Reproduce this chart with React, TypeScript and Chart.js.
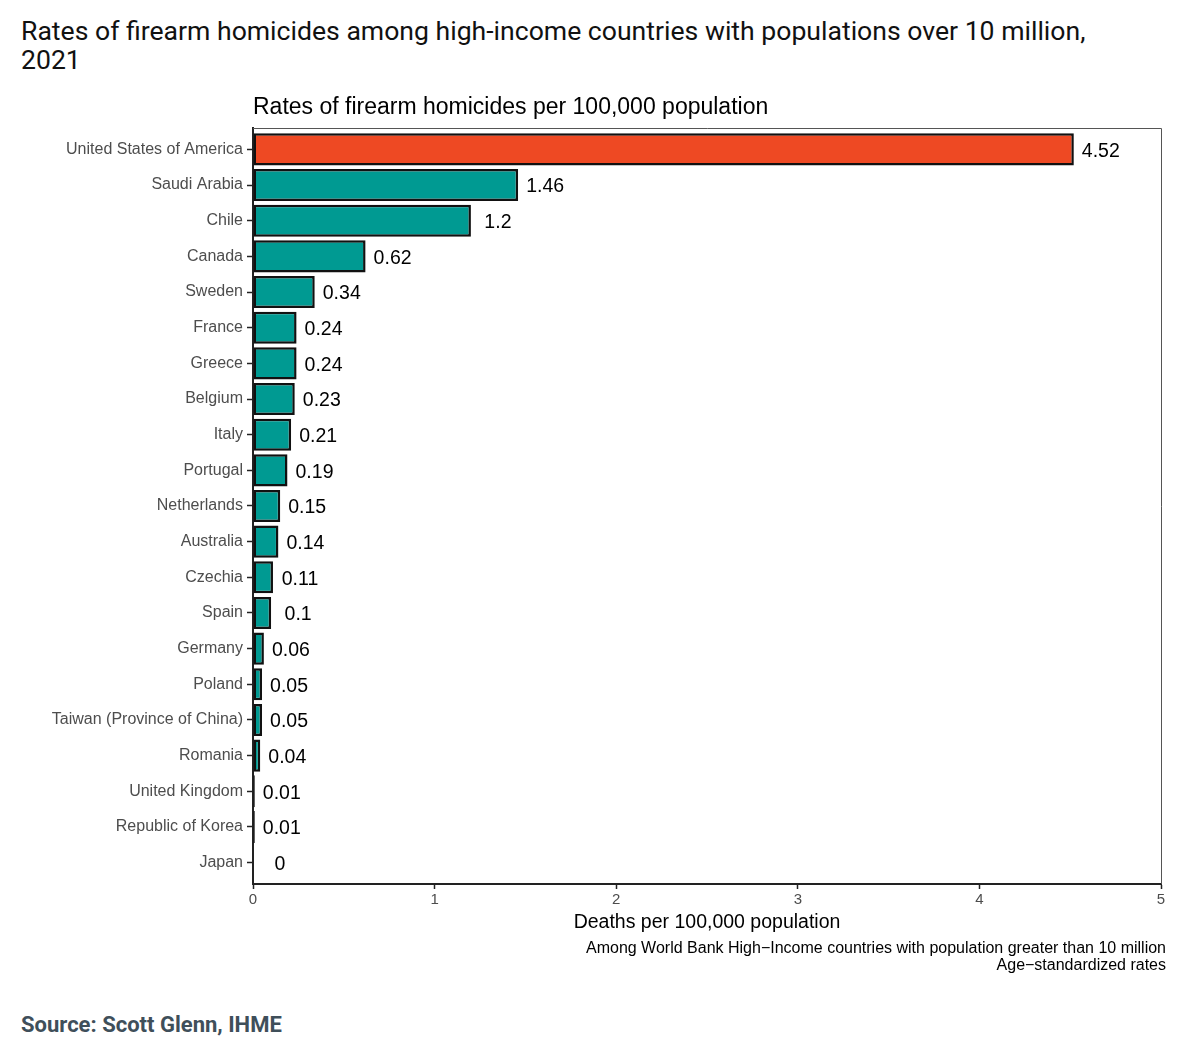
import { useEffect, useRef } from 'react';
import Chart from 'chart.js/auto';

const countries = [
  'United States of America', 'Saudi Arabia', 'Chile', 'Canada', 'Sweden', 'France', 'Greece',
  'Belgium', 'Italy', 'Portugal', 'Netherlands', 'Australia', 'Czechia', 'Spain', 'Germany',
  'Poland', 'Taiwan (Province of China)', 'Romania', 'United Kingdom', 'Republic of Korea', 'Japan',
];
const rates = [4.52, 1.46, 1.2, 0.62, 0.34, 0.24, 0.24, 0.23, 0.21, 0.19, 0.15, 0.14, 0.11, 0.1, 0.06, 0.05, 0.05, 0.04, 0.01, 0.01, 0];
const rateLabels = ['4.52', '1.46', '1.2', '0.62', '0.34', '0.24', '0.24', '0.23', '0.21', '0.19', '0.15', '0.14', '0.11', '0.1', '0.06', '0.05', '0.05', '0.04', '0.01', '0.01', '0'];
const xTicks = [0, 1, 2, 3, 4, 5];

const highlight = 'United States of America';
const captions = [
  'Among World Bank High\u2212Income countries with population greater than 10 million',
  'Age\u2212standardized rates',
];

const sans = '"Liberation Sans", Arial, sans-serif';

// надписи, рамка панели и подзаголовок в стиле ggplot
const extrasPlugin = {
  id: 'extras',
  afterDraw(chart: Chart) {
    const { ctx, chartArea, scales } = chart;
    const x = scales.x;
    const y = scales.y;
    ctx.save();
    // верхняя и правая рамка
    ctx.strokeStyle = '#555';
    ctx.lineWidth = 1;
    ctx.beginPath();
    ctx.moveTo(chartArea.left, chartArea.top + 0.5);
    ctx.lineTo(chartArea.right + 0.5, chartArea.top + 0.5);
    ctx.lineTo(chartArea.right + 0.5, chartArea.bottom);
    ctx.stroke();

    // значения справа от столбцов
    ctx.fillStyle = '#000';
    ctx.font = `19.5px ${sans}`;
    ctx.textAlign = 'center';
    ctx.textBaseline = 'middle';
    rates.forEach((v, i) => {
      ctx.fillText(rateLabels[i], x.getPixelForValue(v) + 27, y.getPixelForValue(i) + 2);
    });

    // подзаголовок над панелью
    ctx.textAlign = 'left';
    ctx.textBaseline = 'alphabetic';
    ctx.font = `23px ${sans}`;
    ctx.fillStyle = '#000';
    ctx.fillText('Rates of firearm homicides per 100,000 population', chartArea.left, chartArea.top - 14);

    // подписи внизу справа
    ctx.textAlign = 'right';
    ctx.font = `16px ${sans}`;
    ctx.fillText(captions[0], chartArea.right + 5, chartArea.bottom + 69);
    ctx.fillText(captions[1], chartArea.right + 5, chartArea.bottom + 86);
    ctx.restore();
  },
};

const BarChart: React.FC = () => {
  const canvasRef = useRef<HTMLCanvasElement>(null);
  const chartInstance = useRef<Chart | null>(null);

  useEffect(() => {
    if (!canvasRef.current) return;
    const ctx = canvasRef.current.getContext('2d');
    if (!ctx) return;

    chartInstance.current = new Chart(ctx, {
      type: 'bar',
      data: {
        datasets: [{
          data: rates.map((v, i) => ({ x: v, y: i })),
          backgroundColor: countries.map(c => (c === highlight ? '#ee4923' : '#009a92')),
          borderColor: '#111',
          borderWidth: 2.5,
          borderSkipped: false,
          categoryPercentage: 1,
          barPercentage: 0.9,
        }],
      },
      options: {
        indexAxis: 'y',
        animation: false,
        responsive: true,
        maintainAspectRatio: false,
        layout: { padding: { left: 0, right: 39, top: 38, bottom: 56 } },
        plugins: {
          legend: { display: false },
          tooltip: { enabled: false },
          title: { display: false },
        },
        scales: {
          x: {
            type: 'linear',
            min: 0,
            max: 5,
            afterBuildTicks: (scale: any) => {
              scale.ticks = xTicks.map(v => ({ value: v }));
            },
            afterFit: (scale: any) => {
              scale.height = 50;
            },
            grid: { drawOnChartArea: false, drawTicks: true, tickLength: 5, tickColor: '#222', tickWidth: 1.5 },
            border: { display: true, color: '#222', width: 2 },
            ticks: {
              color: '#4d4d4d',
              padding: 2,
              font: { family: sans, size: 15 },
            },
            title: {
              display: true,
              text: 'Deaths per 100,000 population',
              color: '#000',
              padding: { top: 0, bottom: 0 },
              font: { family: sans, size: 19.5 },
            },
          },
          y: {
            type: 'linear',
            reverse: true,
            offset: false,
            // дискретная ось с расширением 0.6 как в ggplot
            min: -0.6,
            max: countries.length - 0.4,
            afterBuildTicks: (scale: any) => {
              scale.ticks = countries.map((_, i) => ({ value: i }));
            },
            afterFit: (scale: any) => {
              scale.width = 253;
            },
            grid: { offset: false, drawOnChartArea: false, drawTicks: true, tickLength: 6, tickColor: '#222', tickWidth: 1.5 },
            border: { display: true, color: '#222', width: 2 },
            ticks: {
              color: '#4d4d4d',
              padding: 4,
              autoSkip: false,
              callback: (v: any) => countries[v as number] ?? '',
              font: { family: sans, size: 16 },
            },
          },
        },
      },
      plugins: [extrasPlugin],
    });

    return () => {
      if (chartInstance.current) {
        chartInstance.current.destroy();
        chartInstance.current = null;
      }
    };
  }, []);

  return (
    <div style={{ position: 'relative', width: 1200, height: 900 }}>
      <canvas ref={canvasRef} />
    </div>
  );
};

export default function App() {
  useEffect(() => {
    document.body.style.margin = '0';
    document.body.style.background = '#fff';
  }, []);

  return (
    <div style={{ width: 1200, height: 1053, background: '#fff', fontFamily: sans }}>
      <div style={{ padding: '16px 0 0 21px', fontSize: 26.6, lineHeight: '29px', color: '#111', height: 76, boxSizing: 'border-box', fontFamily: 'Roboto, sans-serif' }}>
        Rates of firearm homicides among high-income countries with populations over 10 million,<br />2021
      </div>
      <div style={{ marginTop: 14 }}>
        <BarChart />
      </div>
      <div style={{ paddingLeft: 21, marginTop: 22, fontSize: 22, fontWeight: 'bold', color: '#3f4f5a', fontFamily: 'Roboto, sans-serif' }}>
        Source: Scott Glenn, IHME
      </div>
    </div>
  );
}
